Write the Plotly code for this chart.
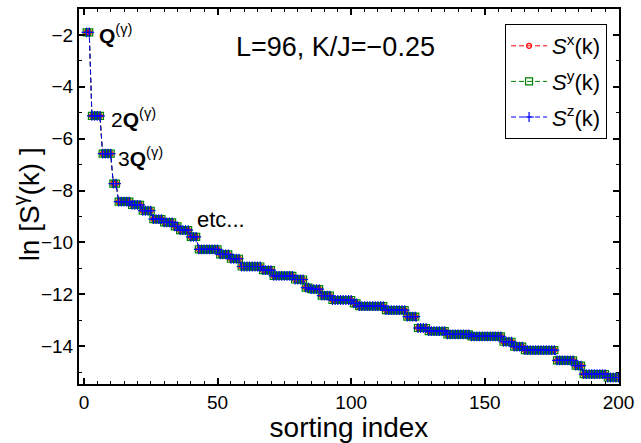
import numpy as np
import plotly.graph_objects as go

# Plateau values (ln S) and number of points on each plateau, in sorting order
plateau_values = [-1.90, -5.12, -6.58, -7.73, -8.43, -8.55, -8.78, -9.10, -9.23, -9.38,
                  -9.53, -9.79, -10.27, -10.46, -10.63, -10.93, -11.07, -11.29, -11.43, -11.74,
                  -11.80, -12.05, -12.22, -12.35, -12.46, -12.61, -12.86, -13.30, -13.42, -13.55,
                  -13.62, -13.83, -14.02, -14.15, -14.55, -14.75, -15.08, -15.21]
plateau_counts = [2, 4, 4, 2, 5, 4, 4, 4, 4, 2,
                  4, 3, 8, 4, 4, 8, 4, 8, 4, 2,
                  4, 4, 8, 2, 10, 8, 4, 4, 7, 9,
                  12, 4, 4, 12, 7, 3, 9, 5]

lnS = []
for v, c in zip(plateau_values, plateau_counts):
    lnS += [v] * c
sort_index = list(range(1, len(lnS) + 1))

series_names = ["<i>S</i><sup>x</sup>(k)", "<i>S</i><sup>y</sup>(k)", "<i>S</i><sup>z</sup>(k)"]
series_colors = ["#ff0000", "#008000", "#0000ff"]
series_symbols = ["circle-open", "square-open", "cross-thin-open"]
series_values = [lnS, lnS, lnS]

x_ticks = [0, 50, 100, 150, 200]
y_ticks = [-14, -12, -10, -8, -6, -4, -2]

FONT = "Liberation Sans, Arial, Helvetica, sans-serif"

fig = go.Figure()
for k, (name, col, sym, vals) in enumerate(zip(series_names, series_colors, series_symbols, series_values)):
    fig.add_trace(go.Scatter(
        x=sort_index, y=vals, name=name, mode="lines+markers", legendgroup=f"g{k}",
        line=dict(color=col, width=1, dash="5px,3px"),
        marker=dict(symbol=sym, size=7 if sym != "circle-open" else 5,
                    color=col, line=dict(color=col, width=1.2)),
    ))

annots = [
    dict(x=5.0, y=-1.95, text="<b>Q</b><sup>(γ)</sup>"),
    dict(x=9.2, y=-5.2, text="2<b>Q</b><sup>(γ)</sup>"),
    dict(x=12.0, y=-6.7, text="3<b>Q</b><sup>(γ)</sup>"),
]
for a in annots:
    fig.add_annotation(x=a["x"], y=a["y"], text=a["text"], showarrow=False,
                       xanchor="left", yanchor="middle",
                       font=dict(family=FONT, size=21, color="black"))
fig.add_annotation(x=41.5, y=-9.1, text="etc...", showarrow=False,
                   xanchor="left", yanchor="middle",
                   font=dict(family=FONT, size=22, color="black"))

fig.add_annotation(x=94.2, y=-2.45, text="L=96, K/J=−0.25", showarrow=False,
                   xanchor="center", yanchor="middle",
                   font=dict(family=FONT, size=27, color="black"))

# y-axis title placed as rotated text
fig.add_annotation(xref="paper", yref="paper", x=-0.097, y=0.478,
                   text="ln [S<sup>γ</sup>(k) ]", textangle=-90, showarrow=False,
                   xanchor="center", yanchor="middle",
                   font=dict(family=FONT, size=28, color="black"))

axis_common = dict(
    showline=True, linecolor="black", linewidth=2, mirror="ticks",
    ticks="inside", ticklen=6, tickwidth=1.5, tickcolor="black",
    showgrid=False, zeroline=False,
    tickfont=dict(family=FONT, size=19, color="black"),
    ticklabeloverflow="allow",
)

fig.update_xaxes(
    range=[-1.84, 200.2], tickvals=x_ticks,
    minor=dict(dtick=5, ticks="inside", ticklen=3, tickcolor="black", tickwidth=1.2, showgrid=False),
    title=dict(text="sorting index", font=dict(family=FONT, size=28, color="black"), standoff=4),
    **axis_common,
)
fig.update_yaxes(
    range=[-15.46, -1.0], tickvals=y_ticks, ticktext=["−14", "−12", "−10", "−8", "−6", "−4", "−2"],
    minor=dict(dtick=1, ticks="inside", ticklen=3, tickcolor="black", tickwidth=1.2, showgrid=False),
    **axis_common,
)

fig.update_layout(
    width=641, height=443,
    margin=dict(l=79, r=13, t=7, b=57),
    paper_bgcolor="white", plot_bgcolor="white",
    showlegend=True,
    legend=dict(
        x=0.789, y=0.96, xanchor="left", yanchor="top",
        bgcolor="white", bordercolor="black", borderwidth=1,
        font=dict(family=FONT, size=22, color="black"),
        itemwidth=36, tracegroupgap=4,
    ),
)

fig.write_html("out.html")
